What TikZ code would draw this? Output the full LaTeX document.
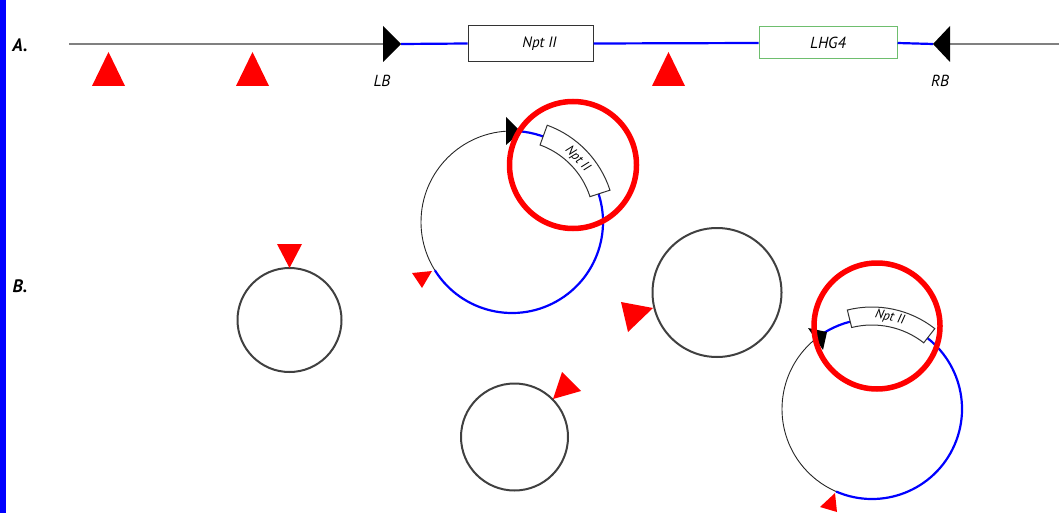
\documentclass[tikz,border=0pt]{standalone}
\usepackage{fontspec}
\setmainfont{PT Sans}
\usetikzlibrary{calc}

\begin{document}
\begin{tikzpicture}[x=1pt,y=1pt,
  backbone/.style={draw=black!50,line width=2pt},
  tdna/.style={draw=blue,line width=2.2pt},
  vector/.style={draw=black!85,line width=0.9pt},
  plasmid/.style={draw=black!75,line width=2pt},
  genebox/.style={draw=black!80,fill=white,line width=1pt,inner sep=0pt},
  genetext/.style={font=\fontsize{13}{15}\selectfont\itshape},
  tag/.style={font=\fontsize{16}{18}\selectfont\itshape},
  panel/.style={font=\fontsize{18}{20}\selectfont\bfseries\itshape},
  ring/.style={draw=red,line width=5.5pt}]
\useasboundingbox (0,0) rectangle (1059,-513);

% blue bar
\fill[blue] (0,0) rectangle (6,-513);

% panel labels
\node[panel] (A) at (20,-45) {A.};
\node[panel] (B) at (20,-286) {B.};

% T-DNA on the chromosome
\coordinate (left end) at (69,-44);
\coordinate (right end) at (1059,-44);
\coordinate (lb base) at (383,-44);
\coordinate (lb tip) at (401,-44);
\coordinate (rb tip) at (933,-44);
\coordinate (rb base) at (950,-44);
\node[genebox,minimum width=125,minimum height=36] (npt) at (530.5,-43.5) {};
\node[genetext,font=\fontsize{15}{17}\selectfont\itshape] at ([xshift=9pt]npt) {Npt II};
\node[genebox,draw={rgb,255:red,110;green,190;blue,110},minimum width=138,minimum height=32] (lhg) at (828,-43) {};
\node[tag] at (lhg) {LHG4};
\draw[backbone] (left end) -- (lb base);
\draw[tdna] (lb tip) -- (npt.west);
\draw[tdna] (npt.east) -- (lhg.west);
\draw[tdna] (lhg.east) -- (rb tip);
\draw[backbone] (rb base) -- (right end);

% borders
\fill ([yshift=18pt]lb base) -- (lb tip) -- ([yshift=-18pt]lb base) -- cycle;
\fill ([yshift=18pt]rb base) -- (rb tip) -- ([yshift=-18pt]rb base) -- cycle;
\node[tag] (LB) at (382,-81) {LB};
\node[tag] (RB) at (940,-81) {RB};

% sites on the chromosome
\foreach \x in {108.5,252.5,668.5}
  \fill[red] (\x,-52) -- (\x+16.5,-86) -- (\x-16.5,-86) -- cycle;

% first plasmid
\coordinate (c1) at (512,-222);
\draw[vector] ($(c1)+(90:91pt)$) arc[start angle=90,end angle=212,radius=91pt];
\draw[tdna] ($(c1)+(-148:91pt)$) arc[start angle=-148,end angle=90,radius=91pt];
\filldraw[genebox] ($(c1)+(18:82pt)$) arc[start angle=18,end angle=70,radius=82pt]
  -- ($(c1)+(70:103pt)$) arc[start angle=70,end angle=18,radius=103pt] -- cycle;
\node[genetext,rotate=-46] (npt1) at ($(c1)+(44:91pt)$) {Npt II};
\fill (506,-117) -- (521,-132) -- (506,-145) -- cycle;
\fill[red] (412,-273) -- (432,-271) -- (422,-288) -- cycle;

% second plasmid
\coordinate (c5) at (872,-409);
\draw[vector] ($(c5)+(127:90pt)$) arc[start angle=127,end angle=246.5,radius=90pt];
\draw[tdna] ($(c5)+(-113.5:90pt)$) arc[start angle=-113.5,end angle=127,radius=90pt];
\filldraw[genebox] ($(c5)+(52:84pt)$) arc[start angle=52,end angle=104,radius=84pt]
  -- ($(c5)+(104:102pt)$) arc[start angle=104,end angle=52,radius=102pt] -- cycle;
\node[genetext,rotate=-12] (npt5) at ($(c5)+(79:93pt)$) {Npt II};
\fill (808,-328) -- (827,-332) -- (823,-350) -- cycle;
\fill[red] (820,-507) -- (835,-493) -- (837,-512) -- cycle;

% empty plasmids
\coordinate (c2) at (289.5,-320);
\draw[plasmid] (c2) circle[radius=52pt];
\fill[red] (277,-244) -- (302,-244) -- (289.5,-268) -- cycle;

\coordinate (c3) at (717,-292.5);
\draw[plasmid] (c3) circle[radius=64.5pt];
\fill[red] (621,-302) -- (653,-308) -- (628,-332) -- cycle;

\coordinate (c4) at (514.5,-437);
\draw[plasmid] (c4) circle[radius=53.5pt];
\fill[red] (553,-399) -- (562,-372) -- (581,-391) -- cycle;

% highlight rings
\draw[ring] (573,-165) circle[radius=63.5pt];
\draw[ring] (877,-326) circle[radius=63pt];

\end{tikzpicture}
\end{document}
